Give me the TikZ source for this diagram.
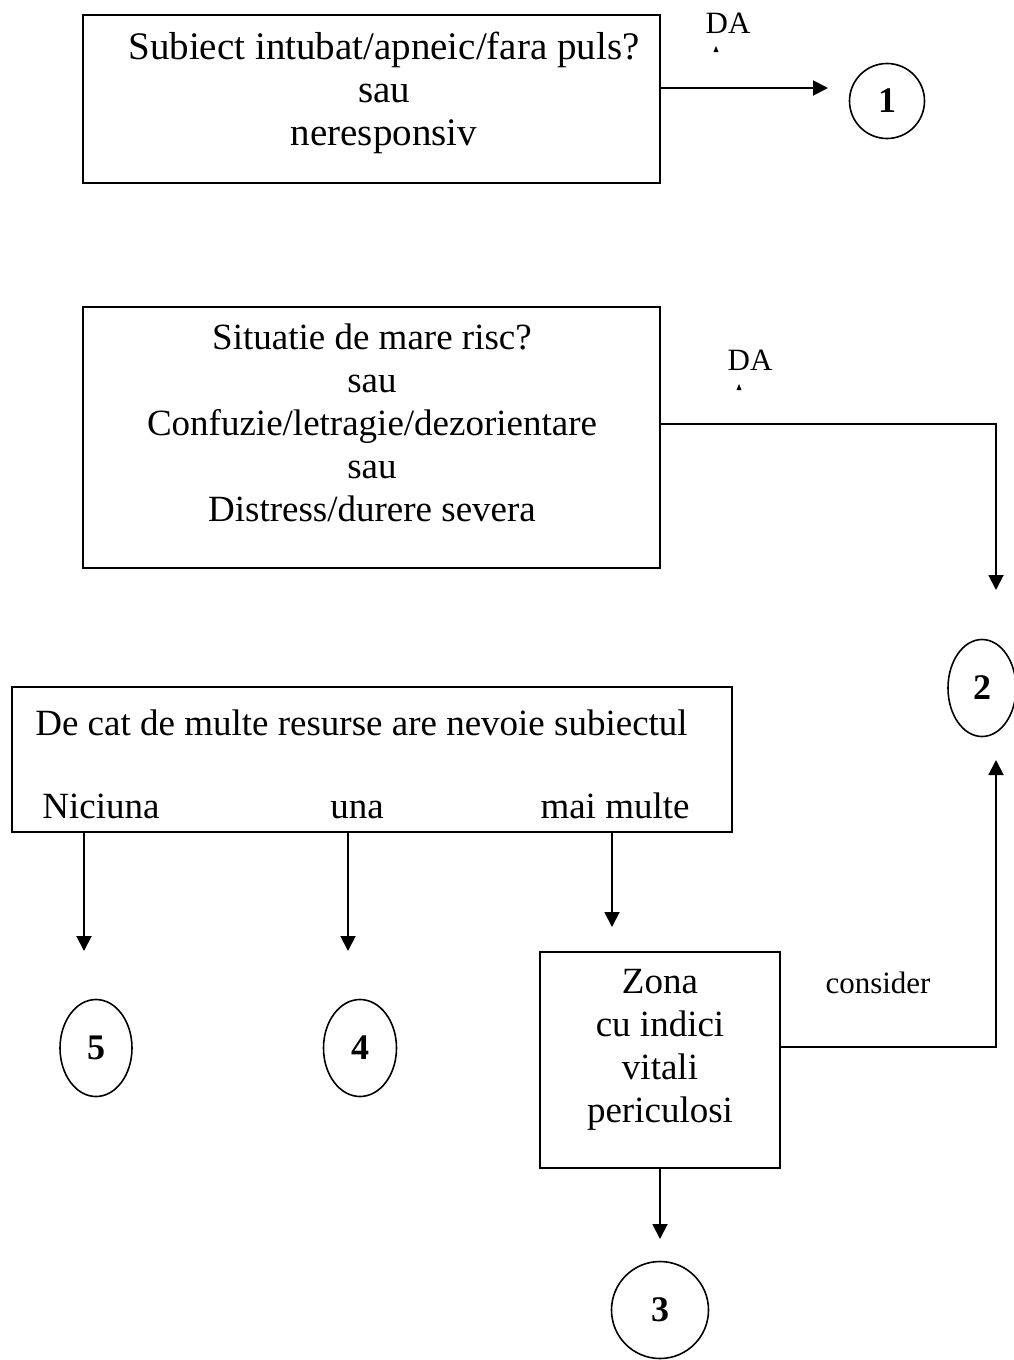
\documentclass[tikz,border=0pt]{standalone}
\usepackage{fontspec}
\setmainfont{Liberation Serif}
\usetikzlibrary{arrows.meta,shapes.geometric}

\begin{document}
\begin{tikzpicture}[x=1pt,y=-1pt,
		>={Triangle[width=15pt,length=15pt]},
		line width=1.9pt,
		box/.style={draw, rectangle, inner sep=0pt},
		txt/.style={align=center, inner sep=0pt, font=\fontsize{37}{43}\selectfont},
		num/.style={draw, ellipse, inner sep=0pt, line width=1.6pt, font=\fontsize{36}{40}\selectfont\bfseries},
		small/.style={inner sep=0pt, font=\fontsize{31}{36}\selectfont}]
	\useasboundingbox (0,0) rectangle (1013,1360);

	\node[box, minimum width=577, minimum height=168] (q1) at (371.5,99) {};
	\node[txt, font=\fontsize{39}{43}\selectfont] (q1t) at (384,93) {Subiect intubat/apneic/fara puls?\\ sau\\ neresponsiv};
	\node[num, minimum width=75, minimum height=75] (n1) at (887,101) {1};
	\node[small] (da1) at (728,23) {DA};
	\fill (716,46) -- (718.5,52) -- (713.5,52) -- cycle;

	\node[box, minimum width=577, minimum height=261] (q2) at (371.5,437.5) {};
	\node[txt] (q2t) at (372,423) {Situatie de mare risc?\\ sau\\ Confuzie/letragie/dezorientare\\ sau\\ Distress/durere severa};
	\node[small] (da2) at (750,360) {DA};
	\fill (739,384) -- (741.5,390) -- (736.5,390) -- cycle;
	\node[num, minimum width=68, minimum height=97] (n2) at (982,688) {2};

	\node[box, minimum width=720, minimum height=145] (q3) at (372,759.5) {};
	\node[txt] (q3t) at (361.5,723) {De cat de multe resurse are nevoie subiectul};
	\node[txt, anchor=base] (o0) at (101,818) {Niciuna};
	\node[txt, anchor=base] (o1) at (357,818) {una};
	\node[txt, anchor=base] (o2) at (615,818) {mai multe};

	\node[num, minimum width=72, minimum height=97] (n5) at (96,1048) {5};
	\node[num, minimum width=73, minimum height=97] (n4) at (360,1048) {4};

	\node[box, minimum width=240, minimum height=216] (zona) at (660,1060) {};
	\node[txt] (zt) at (660,1050) {Zona\\ cu indici\\ vitali\\ periculosi};
	\node[small] (cons) at (878,983) {consider};
	\node[num, minimum width=97, minimum height=97] (n3) at (660,1310) {3};

	\coordinate (t1) at (828,88);
	\coordinate (c2) at (996,424);
	\coordinate (t2) at (996,590);
	\coordinate (t5) at (84,951);
	\coordinate (t4) at (348,951);
	\coordinate (tz) at (612,927);
	\coordinate (c4) at (996,1047);
	\coordinate (t2b) at (996,760);
	\coordinate (t3) at (660,1239);

	\draw[->] (q1.east |- t1) to (t1);
	\draw[->] (q2.east |- c2) -- (c2) -- (t2);
	\draw[->] (q3.south -| t5) to (t5);
	\draw[->] (q3.south -| t4) to (t4);
	\draw[->] (q3.south -| tz) to (tz);
	\draw[->] (zona.east |- c4) -- (c4) -- (t2b);
	\draw[->] (zona.south) to (t3);

\end{tikzpicture}
\end{document}
